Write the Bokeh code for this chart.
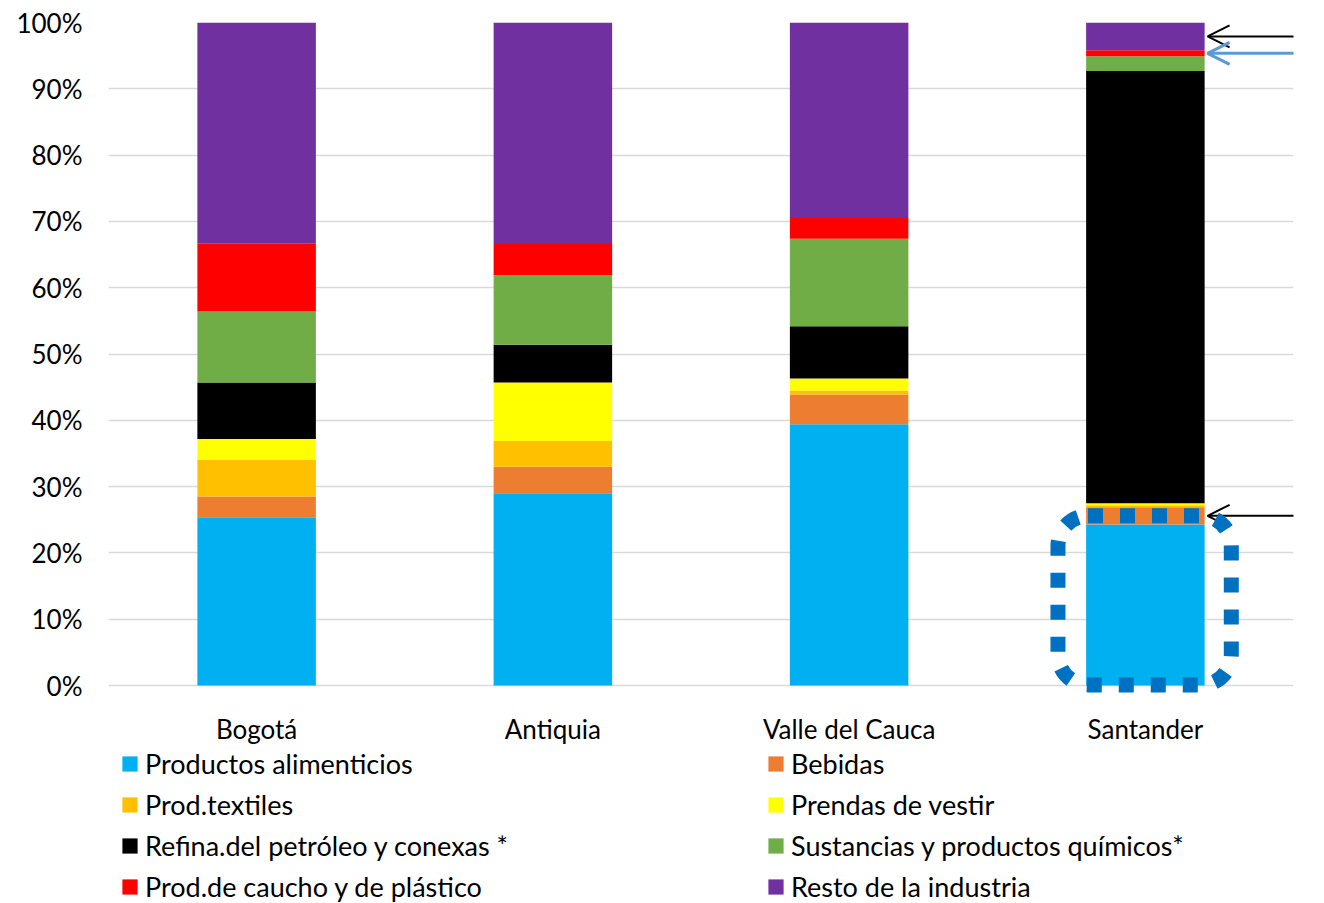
from bokeh.plotting import figure
from bokeh.layouts import column
from bokeh.models import (FactorRange, Range1d, FixedTicker, Legend, LegendItem,
                          Arrow, OpenHead, BoxAnnotation, ColumnDataSource)
from bokeh.embed import file_html
from bokeh.resources import INLINE

regions = ["Bogotá", "Antiquia", "Valle del Cauca", "Santander"]
series_names = ["Productos alimenticios", "Bebidas", "Prod.textiles", "Prendas de vestir",
                "Refina.del petróleo y conexas *", "Sustancias y productos químicos*",
                "Prod.de caucho y de plástico", "Resto de la industria"]
colors = ["#00B0F0", "#ED7D31", "#FFC000", "#FFFF00", "#000000", "#70AD47", "#FF0000", "#7030A0"]

alimenticios = [25.4, 29.0, 39.4, 24.3]
bebidas = [3.1, 4.0, 4.5, 2.6]
textiles = [5.6, 3.9, 0.6, 0.3]
vestir = [3.1, 8.8, 1.8, 0.3]
petroleo = [8.5, 5.7, 7.9, 65.2]
quimicos = [10.7, 10.5, 13.2, 2.2]
caucho = [10.3, 4.7, 3.1, 0.9]
resto = [33.3, 33.4, 29.5, 4.2]

y_ticks = [0, 10, 20, 30, 40, 50, 60, 70, 80, 90, 100]
y_tick_labels = ["0%", "10%", "20%", "30%", "40%", "50%", "60%", "70%", "80%", "90%", "100%"]

FONT = "Lato"
keys = ["s%d" % i for i in range(8)]
series = [alimenticios, bebidas, textiles, vestir, petroleo, quimicos, caucho, resto]
data = {"region": regions}
for k, s in zip(keys, series):
    data[k] = s
source = ColumnDataSource(data)

p = figure(x_range=FactorRange(*regions, range_padding=0), y_range=Range1d(-1.2, 100),
           width=1324, height=747, output_backend="svg", toolbar_location=None,
           min_border_left=108, min_border_right=31, min_border_top=22, min_border_bottom=45)
p.outline_line_color = None
p.background_fill_color = "white"

renderers = p.vbar_stack(keys, x="region", width=0.4, color=colors, line_color=None, source=source)

p.xgrid.grid_line_color = None
p.ygrid.grid_line_color = "#D9D9D9"
p.ygrid.grid_line_width = 1.5
p.yaxis.ticker = FixedTicker(ticks=y_ticks)
p.yaxis.major_label_overrides = {t: l for t, l in zip(y_ticks, y_tick_labels)}
for ax in (p.xaxis, p.yaxis):
    ax.axis_line_color = None
    ax.major_tick_line_color = None
    ax.minor_tick_line_color = None
    ax.major_label_text_font = FONT
    ax.major_label_text_font_size = "26px"
    ax.major_label_text_color = "#000000"
p.yaxis.major_label_standoff = 20
p.xaxis.major_label_standoff = 13

# annotations on Santander bar
i = regions.index("Santander")
xc = i + 0.5
cum = []
acc = 0
for s in series:
    cum.append((acc, acc + s[i]))
    acc += s[i]
mid = lambda k: (cum[k][0] + cum[k][1]) / 2

p.add_layout(Arrow(x_start=4.04, y_start=mid(7), x_end=xc + 0.21, y_end=mid(7),
                   line_color="black", line_width=2,
                   end=OpenHead(size=22, line_color="black", line_width=2)))
p.add_layout(Arrow(x_start=4.04, y_start=mid(6), x_end=xc + 0.21, y_end=mid(6),
                   line_color="#5B9BD5", line_width=3,
                   end=OpenHead(size=22, line_color="#5B9BD5", line_width=3)))
p.add_layout(Arrow(x_start=4.04, y_start=mid(1), x_end=xc + 0.21, y_end=mid(1),
                   line_color="black", line_width=2,
                   end=OpenHead(size=22, line_color="black", line_width=2)))

p.add_layout(BoxAnnotation(left=xc - 0.295, right=xc + 0.29, bottom=0.1, top=mid(1),
                           fill_alpha=0, line_color="#0070C0", line_alpha=1, line_width=15,
                           line_dash="15 17", border_radius=30))

# legend figure below the chart: two columns, filled column by column
pl = figure(width=1324, height=156, output_backend="svg", toolbar_location=None,
            x_range=Range1d(0, 1), y_range=Range1d(0, 1),
            x_axis_location=None, y_axis_location=None,
            min_border_left=0, min_border_right=0, min_border_top=0, min_border_bottom=0)
pl.grid.visible = False
pl.outline_line_color = None
swatches = [pl.vbar(x=[-10], top=[0], width=0.1, color=c, line_color=None) for c in colors]
order = [0, 2, 4, 6, 1, 3, 5, 7]
items = [LegendItem(label=series_names[k], renderers=[swatches[k]]) for k in order]
legend = Legend(items=items, orientation="vertical", ncols=2, location=(12, 0),
                glyph_width=19, glyph_height=19, label_standoff=6, label_width=613,
                label_height=28, spacing=8, padding=0, margin=0,
                label_text_font=FONT, label_text_font_size="27px", label_text_color="#000000",
                background_fill_alpha=0, border_line_alpha=0)
pl.add_layout(legend)

open("out.html", "w").write(file_html(column(p, pl, spacing=0), INLINE))
